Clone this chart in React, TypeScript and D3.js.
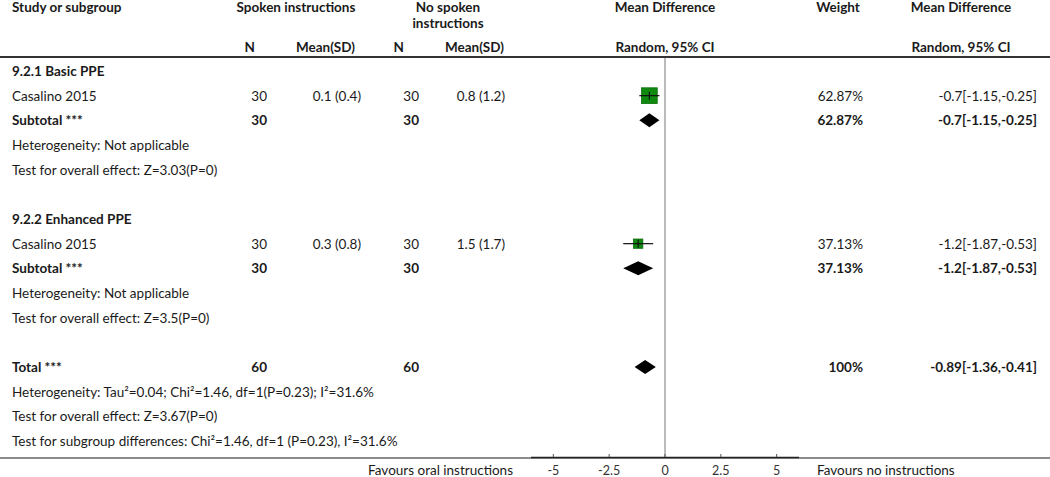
import React from "react";
import * as d3 from "d3";

const width = 1050;
const height = 477;
const font = "Lato, 'Source Sans Pro', sans-serif";

// study level data
const groupNames = ["9.2.1 Basic PPE", "9.2.2 Enhanced PPE"];
const studyNames = ["Casalino 2015", "Casalino 2015"];
const spokenN = [30, 30];
const spokenMeanSD = ["0.1 (0.4)", "0.3 (0.8)"];
const noSpokenN = [30, 30];
const noSpokenMeanSD = ["0.8 (1.2)", "1.5 (1.7)"];
const studyMD = [-0.7, -1.2];
const studyLow = [-1.15, -1.87];
const studyHigh = [-0.25, -0.53];
const studyWeight = [62.87, 37.13];

// subgroup summaries
const subMD = [-0.7, -1.2];
const subLow = [-1.15, -1.87];
const subHigh = [-0.25, -0.53];
const subHetero = ["Heterogeneity: Not applicable", "Heterogeneity: Not applicable"];
const subEffect = ["Test for overall effect: Z=3.03(P=0)", "Test for overall effect: Z=3.5(P=0)"];

// overall
const totalN = [60, 60];
const totalMD = -0.89;
const totalLow = -1.36;
const totalHigh = -0.41;
const totalNotes = [
  "Heterogeneity: Tau²=0.04; Chi²=1.46, df=1(P=0.23); I²=31.6%",
  "Test for overall effect: Z=3.67(P=0)",
  "Test for subgroup differences: Chi²=1.46, df=1 (P=0.23), I²=31.6%",
];

const tickValues = [-5, -2.5, 0, 2.5, 5];
const xDomain = [-6, 6];

const fmtCI = (m: number, l: number, h: number) => `${m}[${l},${h}]`;

type Row = {
  kind: "group" | "study" | "subtotal" | "note" | "blank" | "total";
  i?: number;
  text?: string;
};

const rows: Row[] = [];
groupNames.forEach((g, i) => {
  rows.push({ kind: "group", text: g });
  rows.push({ kind: "study", i });
  rows.push({ kind: "subtotal", i });
  rows.push({ kind: "note", text: subHetero[i] });
  rows.push({ kind: "note", text: subEffect[i] });
  rows.push({ kind: "blank" });
});
rows.push({ kind: "total" });
totalNotes.forEach(t => rows.push({ kind: "note", text: t }));

const x = d3.scaleLinear().domain(xDomain).range([531, 799]);
const y = d3.scaleLinear().domain([0, rows.length - 1]).range([71, 441]);
const sizeScale = d3.scaleLinear().domain([0, 100]).range([0, 25]);

const col = { n1: 267, m1: 361, n2: 419, m2: 505, w: 863, ci: 1037 };
const textColor = "#1a1a1a";
const dy = 1.5; // baseline nudge so text centres sit on the row line

const Diamond = ({ lo, mid, hi, cy }: { lo: number; mid: number; hi: number; cy: number }) => {
  const h = 7;
  const path = d3.line()([
    [x(lo), cy],
    [x(mid), cy - h],
    [x(hi), cy],
    [x(mid), cy + h],
  ]) + "Z";
  return <path d={path} fill="#000" />;
};

export default function App() {
  return (
    <svg width={width} height={height} style={{ display: "block", position: "absolute", left: 0, top: 0 }} fontFamily={font} fontSize={13.5} fill={textColor}>
      <rect width={width} height={height} fill="#fff" />
      {/* header */}
      <g fontWeight="bold" dominantBaseline="middle">
        <text x={12} y={8.5}>Study or subgroup</text>
        <text x={296} y={8.5} textAnchor="middle">Spoken instructions</text>
        <text x={448} y={8.5} textAnchor="middle">No spoken</text>
        <text x={448} y={24.5} textAnchor="middle">instructions</text>
        <text x={x(0)} y={8.5} textAnchor="middle">Mean Difference</text>
        <text x={838} y={8.5} textAnchor="middle">Weight</text>
        <text x={961} y={8.5} textAnchor="middle">Mean Difference</text>
        <text x={255} y={49} textAnchor="end">N</text>
        <text x={355} y={49} textAnchor="end">Mean(SD)</text>
        <text x={404} y={49} textAnchor="end">N</text>
        <text x={504} y={49} textAnchor="end">Mean(SD)</text>
        <text x={x(0)} y={49} textAnchor="middle">Random, 95% CI</text>
        <text x={961} y={49} textAnchor="middle">Random, 95% CI</text>
      </g>
      <line x1={0} x2={width} y1={57} y2={57} stroke="#333" strokeWidth={2} />

      {/* zero line */}
      <line x1={x(0)} x2={x(0)} y1={58} y2={458} stroke="#bbb" strokeWidth={2} />

      {rows.map((r, k) => {
        const cy = y(k);
        const ty = cy + dy;
        if (r.kind === "group")
          return <text key={k} x={12} y={ty} dominantBaseline="middle" fontWeight="bold">{r.text}</text>;
        if (r.kind === "note")
          return <text key={k} x={12} y={ty} dominantBaseline="middle">{r.text}</text>;
        if (r.kind === "study") {
          const i = r.i!;
          const s = sizeScale(studyWeight[i]);
          return (
            <g key={k} dominantBaseline="middle">
              <text x={12} y={ty}>{studyNames[i]}</text>
              <text x={col.n1} y={ty} textAnchor="end">{spokenN[i]}</text>
              <text x={col.m1} y={ty} textAnchor="end">{spokenMeanSD[i]}</text>
              <text x={col.n2} y={ty} textAnchor="end">{noSpokenN[i]}</text>
              <text x={col.m2} y={ty} textAnchor="end">{noSpokenMeanSD[i]}</text>
              <text x={col.w} y={ty} textAnchor="end">{studyWeight[i]}%</text>
              <text x={col.ci} y={ty} textAnchor="end">{fmtCI(studyMD[i], studyLow[i], studyHigh[i])}</text>
              <rect x={x(studyMD[i]) - s / 2} y={cy - s / 2} width={s} height={s} fill="#0f8a0f" stroke="#0a6e0a" strokeWidth={0.8} />
              <line x1={x(studyLow[i])} x2={x(studyHigh[i])} y1={cy} y2={cy} stroke="#111" strokeWidth={1.2} />
              <line x1={x(studyMD[i])} x2={x(studyMD[i])} y1={cy - 4} y2={cy + 4} stroke="#111" strokeWidth={1.2} />
            </g>
          );
        }
        if (r.kind === "subtotal") {
          const i = r.i!;
          return (
            <g key={k} dominantBaseline="middle" fontWeight="bold">
              <text x={12} y={ty}>Subtotal ***</text>
              <text x={col.n1} y={ty} textAnchor="end">{spokenN[i]}</text>
              <text x={col.n2} y={ty} textAnchor="end">{noSpokenN[i]}</text>
              <text x={col.w} y={ty} textAnchor="end">{studyWeight[i]}%</text>
              <text x={col.ci} y={ty} textAnchor="end">{fmtCI(subMD[i], subLow[i], subHigh[i])}</text>
              <Diamond lo={subLow[i]} mid={subMD[i]} hi={subHigh[i]} cy={cy} />
            </g>
          );
        }
        if (r.kind === "total")
          return (
            <g key={k} dominantBaseline="middle" fontWeight="bold">
              <text x={12} y={ty}>Total ***</text>
              <text x={col.n1} y={ty} textAnchor="end">{totalN[0]}</text>
              <text x={col.n2} y={ty} textAnchor="end">{totalN[1]}</text>
              <text x={col.w} y={ty} textAnchor="end">100%</text>
              <text x={col.ci} y={ty} textAnchor="end">{fmtCI(totalMD, totalLow, totalHigh)}</text>
              <Diamond lo={totalLow} mid={totalMD} hi={totalHigh} cy={cy} />
            </g>
          );
        return null;
      })}

      {/* bottom rule and axis */}
      <line x1={0} x2={width} y1={458} y2={458} stroke="#666" strokeWidth={1.5} />
      <line x1={x(xDomain[0])} x2={x(xDomain[1])} y1={457.5} y2={457.5} stroke="#222" strokeWidth={1.5} />
      {tickValues.map(t => (
        <g key={t}>
          <line x1={x(t)} x2={x(t)} y1={454} y2={457} stroke="#555" />
          <text x={x(t)} y={471.5} textAnchor="middle" dominantBaseline="middle" fontSize={12.5} fill="#333">{t}</text>
        </g>
      ))}
      <text x={513} y={471.5} textAnchor="end" dominantBaseline="middle">Favours oral instructions</text>
      <text x={817} y={471.5} dominantBaseline="middle">Favours no instructions</text>
    </svg>
  );
}
